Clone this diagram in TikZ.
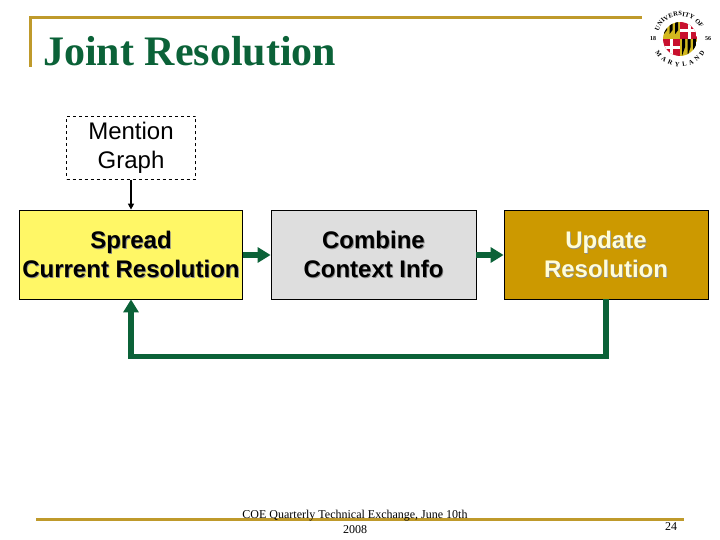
\documentclass[tikz,border=0pt]{standalone}
\usepackage{fontspec}
\setmainfont{Liberation Serif}
\newfontfamily\boxfont{Liberation Sans}
\usetikzlibrary{arrows.meta,decorations.text}
\definecolor{umdgreen}{HTML}{0B6238}
\definecolor{umdgold}{HTML}{BF9A2B}
\definecolor{updategold}{HTML}{CC9900}
\definecolor{umdred}{HTML}{C8102E}
\newcommand{\softtext}[2]{\leavevmode\rlap{\raisebox{-0.8pt}{\hspace{0.8pt}\textcolor{#1}{#2}}}#2}
\tikzset{
  labelbox/.style={draw=black, line width=0.8pt, minimum height=89pt, align=center,
    font=\boxfont\bfseries\fontsize{24}{28.5}\selectfont, inner sep=0pt, text depth=0pt},
  greenarrow/.style={draw=umdgreen, line width=5.5pt, -{Triangle[length=13pt,width=15pt]}},
  framerule/.style={draw=umdgold, line width=3pt},
  footertext/.style={font=\fontsize{12}{15}\selectfont, align=center, inner sep=0pt},
  sealtext/.style={font=\bfseries\fontsize{6}{6}\selectfont, inner sep=0pt}
}
\begin{document}
\begin{tikzpicture}[x=1pt,y=-1pt]
\useasboundingbox (0,0) rectangle (720,540);

\draw[framerule] (30,67) -- (30,18) -- (642,18);
\draw[framerule] (36,519) -- (684,519);
\node[anchor=base west, inner sep=0pt, text=umdgreen] (title) at (43,66)
  {\bfseries\fontsize{42}{42}\selectfont Joint Resolution};

\node[draw=black, dashed, line width=0.6pt, minimum width=129pt, minimum height=63pt, align=center,
  font=\boxfont\fontsize{24}{28.5}\selectfont, inner sep=0pt] (mention) at (131,148) {Mention\\Graph};
\node[labelbox, fill=yellow!60!white, minimum width=223pt] (spread) at (131,254.5)
  {\softtext{black!45}{Spread}\\\softtext{black!45}{Current Resolution}};
\node[labelbox, fill=black!13, minimum width=205pt] (combine) at (373.5,254.5)
  {\softtext{black!45}{Combine}\\\softtext{black!45}{Context Info}};
\node[labelbox, fill=updategold, text=white!85!yellow, minimum width=204pt] (update) at (606,254.5)
  {\softtext{black!45}{Update}\\\softtext{black!45}{Resolution}};

\draw[line width=1.6pt, black, -{Triangle[length=6pt,width=6pt]}] (mention) -- (spread);
\draw[greenarrow] (spread.east |- 0,255) -- (combine.west |- 0,255);
\draw[greenarrow] (combine.east |- 0,255) -- (update.west |- 0,255);
\draw[greenarrow] (update.south) -- ++(0,57) -| (spread.south);

\node[footertext] (footer) at (355,522) {COE Quarterly Technical Exchange, June 10th\\2008};
\node[footertext] (pagenum) at (671,527) {24};

\begin{scope}
\clip (680,39) circle (17);
\fill[umdgold!70!yellow] (663,22) rectangle (680,39);
\fill[umdgold!70!yellow] (680,39) rectangle (697,56);
\fill[umdred] (680,22) rectangle (697,39);
\fill[umdred] (663,39) rectangle (680,56);
\foreach \i in {0,1,2} {
  \fill[black] (664+5.6*\i,22) -- ++(3,0) -- ++(0,8) -- ++(-3,4) -- cycle;
  \fill[black] (682+5.6*\i,39) -- ++(3,0) -- ++(0,8) -- ++(-3,9) -- cycle;
}
\fill[white] (688,22) rectangle (691,39);
\fill[white] (680,29) rectangle (697,32);
\fill[white] (670,39) rectangle (673,56);
\fill[white] (663,46) rectangle (680,49);
\end{scope}
\path[decorate, decoration={text along path, text align=fit to path,
  text={|\bfseries\fontsize{6.5}{6.5}\selectfont|UNIVERSITY OF}}] (658.4,31.1) arc (200:332:23);
\path[decorate, decoration={text along path, text align=fit to path,
  text={|\bfseries\fontsize{6.5}{6.5}\selectfont|MARYLAND}}] (655.3,52.1) arc (152:28:28);
\node[sealtext] (sealleft) at (653,39) {18};
\node[sealtext] (sealright) at (708,39) {56};
\end{tikzpicture}
\end{document}
